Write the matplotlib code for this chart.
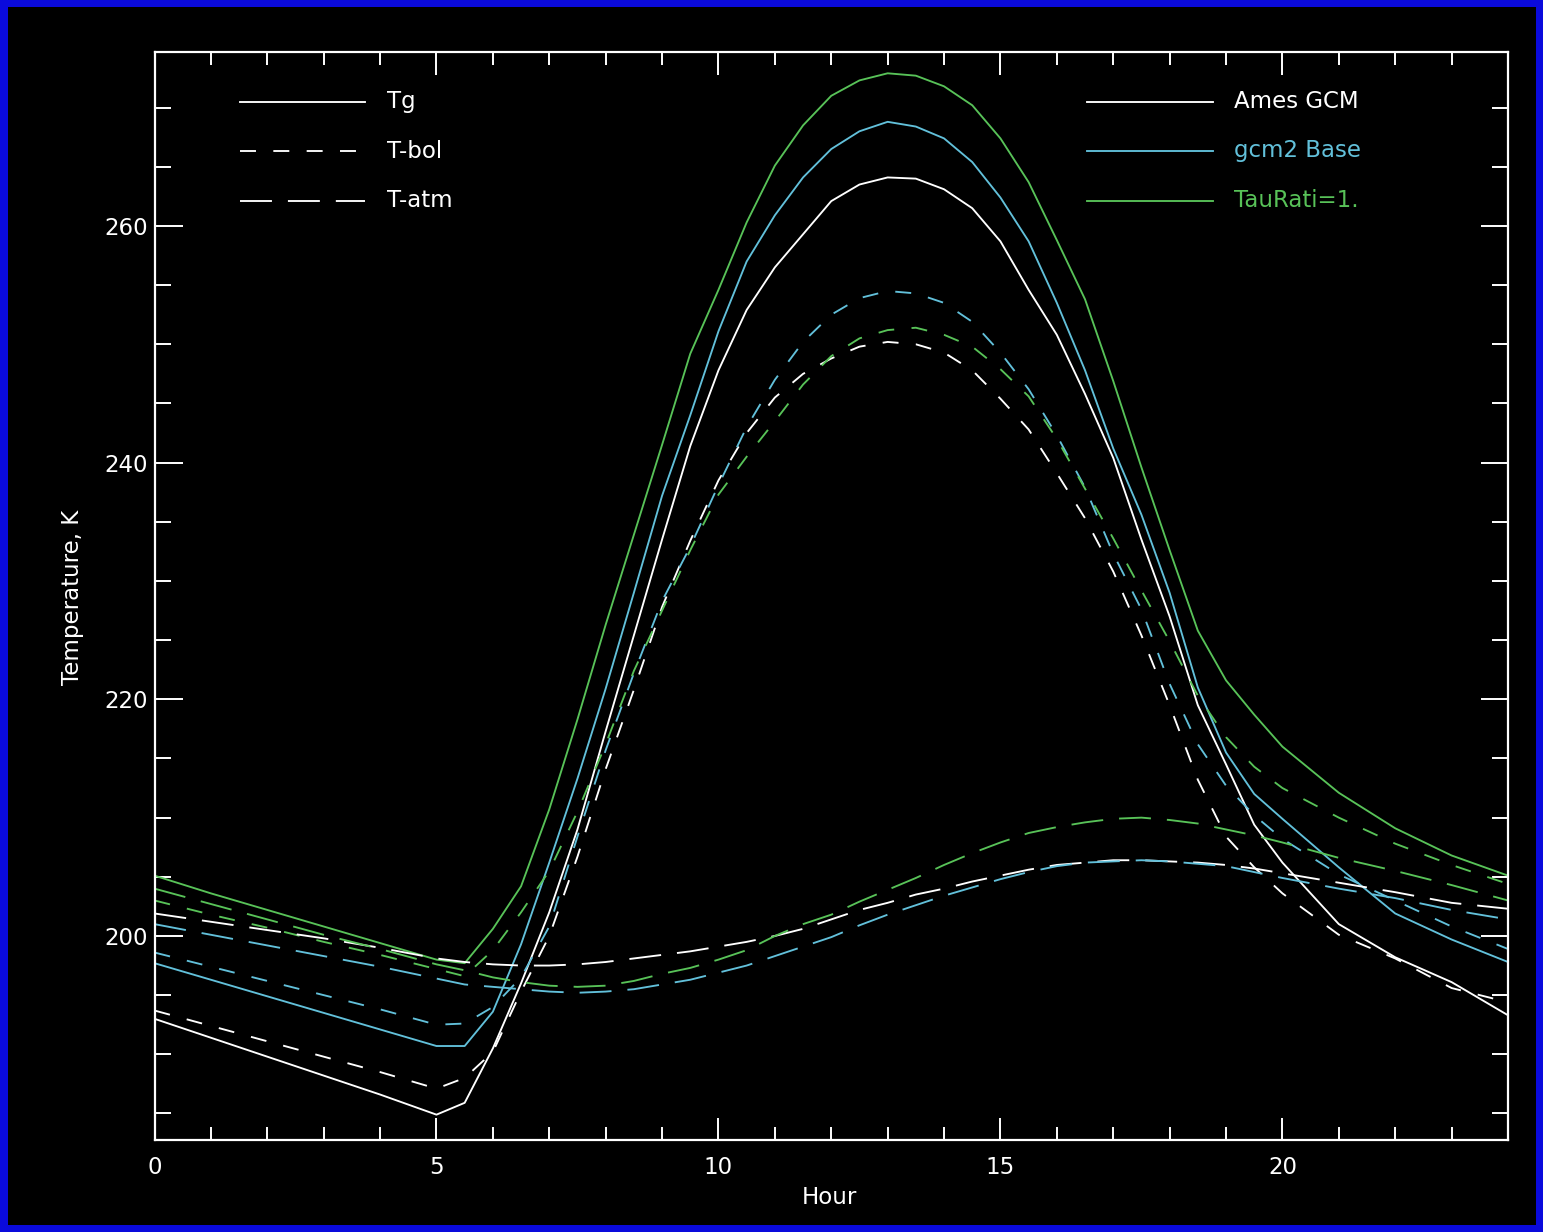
import matplotlib
matplotlib.use("Agg")
import matplotlib.pyplot as plt
from matplotlib.patches import Rectangle
from matplotlib.ticker import MultipleLocator

# ---------------- data ----------------
hours = [0, 1, 2, 3, 4, 5, 5.5, 6, 6.5, 7, 7.5, 8, 8.5, 9, 9.5, 10, 10.5, 11, 11.5,
         12, 12.5, 13, 13.5, 14, 14.5, 15, 15.5, 16, 16.5, 17, 17.5, 18, 18.5, 19,
         19.5, 20, 21, 22, 23, 24]

ames_tg = [193.0, 191.4, 189.8, 188.2, 186.6, 184.9, 185.9, 190.5, 196.0, 202.0, 209.0,
           217.3, 225.4, 233.5, 241.4, 247.8, 252.9, 256.5, 259.3, 262.1, 263.5, 264.1,
           264.0, 263.1, 261.5, 258.7, 254.6, 250.8, 245.8, 240.4, 233.5, 227.0, 219.5,
           214.5, 209.4, 206.2, 201.0, 198.2, 196.1, 193.3]
gcm2_tg = [197.7, 196.3, 194.9, 193.5, 192.1, 190.7, 190.7, 193.6, 199.3, 206.2, 213.3,
           220.9, 229.0, 237.2, 244.0, 251.1, 257.0, 260.9, 264.1, 266.5, 268.0, 268.8,
           268.4, 267.4, 265.4, 262.4, 258.7, 253.5, 247.8, 241.2, 235.6, 229.0, 221.0,
           215.5, 212.0, 209.9, 205.8, 201.9, 199.7, 197.8]
tau_tg = [205.1, 203.6, 202.2, 200.8, 199.4, 198.0, 197.7, 200.6, 204.2, 210.7, 218.3,
          226.3, 233.9, 241.5, 249.2, 254.6, 260.3, 265.1, 268.5, 271.0, 272.3, 272.9,
          272.7, 271.8, 270.2, 267.4, 263.7, 258.8, 253.8, 246.9, 239.6, 232.6, 225.8,
          221.6, 218.7, 216.0, 212.1, 209.1, 206.8, 205.1]

ames_tbol = [193.7, 192.4, 191.1, 189.8, 188.5, 187.1, 188.0, 190.2, 195.3, 200.0, 206.7,
             214.1, 220.8, 227.8, 233.4, 238.5, 242.5, 245.5, 247.5, 248.8, 249.8, 250.2,
             250.0, 249.3, 247.8, 245.4, 242.8, 239.1, 235.3, 230.8, 225.4, 219.5, 213.2,
             208.4, 205.8, 203.6, 200.1, 198.1, 195.6, 194.4]
gcm2_tbol = [198.6, 197.4, 196.2, 195.0, 193.8, 192.5, 192.6, 194.0, 196.5, 200.8, 208.4,
             215.7, 222.2, 228.3, 232.9, 238.1, 243.0, 247.0, 250.2, 252.5, 253.9, 254.5,
             254.3, 253.5, 251.9, 249.3, 246.2, 242.3, 237.9, 232.3, 227.6, 221.3, 216.2,
             212.7, 210.2, 208.2, 205.2, 203.0, 200.8, 198.9]
tau_tbol = [203.0, 201.8, 200.7, 199.5, 198.4, 197.2, 196.6, 198.8, 202.0, 205.5, 210.5,
            216.2, 222.4, 227.5, 232.6, 237.3, 240.5, 243.5, 246.6, 249.0, 250.5, 251.2,
            251.4, 250.8, 249.8, 247.9, 245.6, 242.0, 237.8, 233.6, 229.2, 224.9, 220.3,
            216.8, 214.3, 212.5, 210.0, 207.8, 206.0, 204.4]

ames_tatm = [201.9, 201.2, 200.5, 199.8, 199.0, 198.1, 197.8, 197.6, 197.5, 197.5, 197.6,
             197.8, 198.1, 198.4, 198.7, 199.1, 199.5, 200.0, 200.6, 201.4, 202.2, 202.8,
             203.5, 204.0, 204.6, 205.1, 205.6, 206.0, 206.2, 206.4, 206.4, 206.3, 206.2,
             206.0, 205.7, 205.3, 204.5, 203.7, 202.8, 202.3]
gcm2_tatm = [201.0, 200.1, 199.2, 198.3, 197.4, 196.4, 195.9, 195.7, 195.5, 195.3, 195.2,
             195.3, 195.5, 195.9, 196.3, 196.9, 197.5, 198.3, 199.1, 199.9, 200.9, 201.8,
             202.6, 203.4, 204.1, 204.8, 205.4, 205.9, 206.2, 206.3, 206.4, 206.3, 206.1,
             205.9, 205.4, 204.9, 204.0, 203.2, 202.2, 201.4]
tau_tatm = [204.0, 202.7, 201.4, 200.1, 198.9, 197.6, 197.1, 196.5, 196.1, 195.8, 195.7,
            195.8, 196.2, 196.8, 197.3, 198.0, 198.8, 200.0, 201.0, 201.8, 202.9, 203.9,
            204.9, 206.0, 207.0, 207.9, 208.7, 209.2, 209.6, 209.9, 210.0, 209.8, 209.5,
            209.0, 208.5, 207.9, 206.6, 205.5, 204.3, 203.0]

model_names = ["Ames GCM", "gcm2 Base", "TauRati=1."]
quantity_names = ["Tg", "T-bol", "T-atm"]
x_ticks_major = [0, 5, 10, 15, 20]
y_ticks_major = [200, 220, 240, 260]

# ---------------- style ----------------
BLUE = "#0a0adc"
WHITE = "#ffffff"
CYAN = "#62c0da"
GREEN = "#58c258"
model_colors = [WHITE, CYAN, GREEN]
styles = ["-", (0, (11.5, 12.5)), (0, (23, 11.5))]
LW = 1.35
FS = 16.5

plt.rcParams["lines.scale_dashes"] = False
plt.rcParams["font.family"] = ["DejaVu Sans"]

W, H = 1543, 1232
fig = plt.figure(figsize=(W / 100, H / 100), dpi=100)
fig.patch.set_facecolor(BLUE)
fig.add_artist(Rectangle((8 / W, 7 / H), (1536 - 8) / W, (1225 - 7) / H,
                         transform=fig.transFigure, facecolor="black",
                         edgecolor="none", zorder=-10))

L, R, T, B = 154.5, 1508, 52, 1139.5
ax = fig.add_axes([L / W, 1 - B / H, (R - L) / W, (B - T) / H])
ax.set_facecolor("black")

series = [
    (ames_tg, gcm2_tg, tau_tg),
    (ames_tbol, gcm2_tbol, tau_tbol),
    (ames_tatm, gcm2_tatm, tau_tatm),
]
for q, trio in enumerate(series):
    for m, vals in enumerate(trio):
        ax.plot(hours, vals, color=model_colors[m], linestyle=styles[q], lw=LW,
                solid_capstyle="butt", dash_capstyle="butt")

ax.set_xlim(0, 24)
ax.set_ylim(182.8, 274.7)
ax.xaxis.set_major_locator(MultipleLocator(5))
ax.xaxis.set_minor_locator(MultipleLocator(1))
ax.yaxis.set_major_locator(MultipleLocator(20))
ax.yaxis.set_minor_locator(MultipleLocator(5))
ax.set_xticks(x_ticks_major)
ax.set_yticks(y_ticks_major)
ax.set_xticklabels([str(v) for v in x_ticks_major])
ax.set_yticklabels([str(v) for v in y_ticks_major])

for s in ax.spines.values():
    s.set_color(WHITE)
    s.set_linewidth(1.6)
ax.tick_params(axis="x", which="major", direction="in", length=16.2, width=1.4,
               colors=WHITE, labelsize=FS, pad=12, top=True, bottom=True)
ax.tick_params(axis="x", which="minor", direction="in", length=9.4, width=1.4,
               colors=WHITE, top=True, bottom=True)
ax.tick_params(axis="y", which="major", direction="in", length=19.8, width=1.4,
               colors=WHITE, labelsize=FS, pad=5, left=True, right=True)
ax.tick_params(axis="y", which="minor", direction="in", length=11.2, width=1.4,
               colors=WHITE, left=True, right=True)

fig.text(829 / W, 1 - 1198 / H, "Hour", color=WHITE, fontsize=FS,
         ha="center", va="center")
fig.text(72 / W, 1 - 597 / H, "Temperature, K", color=WHITE, fontsize=FS,
         ha="center", va="center", rotation=90)

# ---------------- legends (drawn in axes fraction coordinates) ----------------
def px2ax(px, py):
    return (px - L) / (R - L), (B - py) / (B - T)

rows_y = [101.7, 151, 200.5]
for i, name in enumerate(quantity_names):
    x0, y0 = px2ax(240, rows_y[i])
    x1, _ = px2ax(365, rows_y[i])
    ax.plot([x0, x1], [y0, y0], transform=ax.transAxes, color=WHITE,
            linestyle=styles[i], lw=LW, dash_capstyle="butt", clip_on=False)
    tx, _ = px2ax(387, rows_y[i])
    ax.text(tx, y0, name, transform=ax.transAxes, color=WHITE, fontsize=FS,
            ha="left", va="center")

for i, name in enumerate(model_names):
    x0, y0 = px2ax(1087, rows_y[i])
    x1, _ = px2ax(1213, rows_y[i])
    ax.plot([x0, x1], [y0, y0], transform=ax.transAxes, color=model_colors[i],
            linestyle="-", lw=LW, clip_on=False)
    tx, _ = px2ax(1234, rows_y[i])
    ax.text(tx, y0, name, transform=ax.transAxes, color=model_colors[i],
            fontsize=FS, ha="left", va="center")

fig.savefig("out.png", dpi=100, facecolor=fig.get_facecolor())
